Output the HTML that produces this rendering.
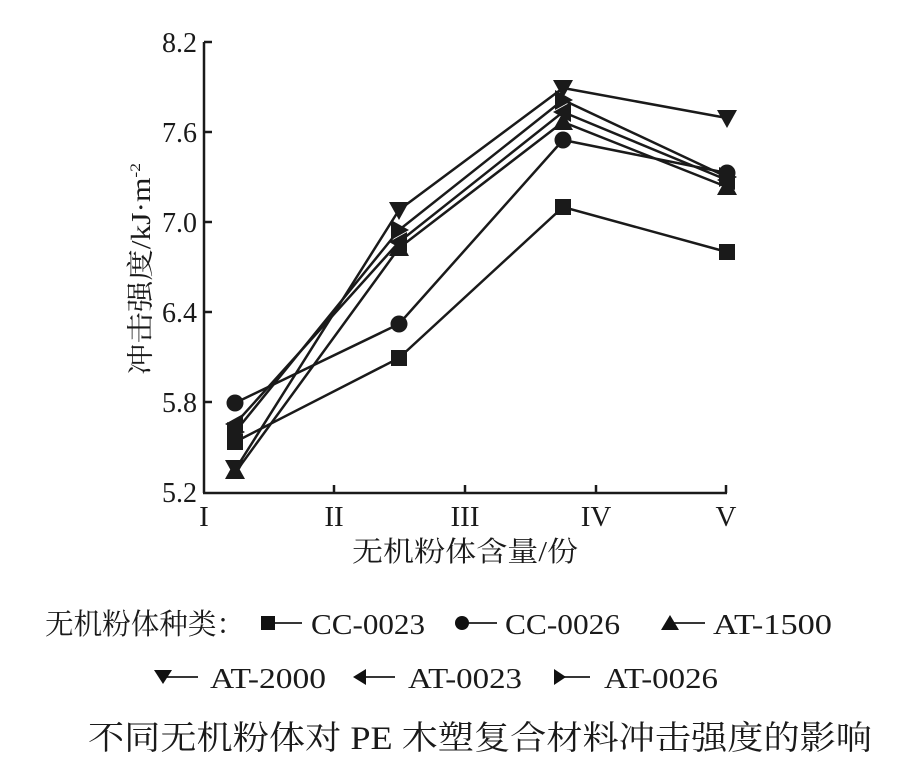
<!DOCTYPE html>
<html><head><meta charset="utf-8"><style>
html,body{margin:0;padding:0;background:#fff;}
svg{display:block;}
text{font-family:"Liberation Serif","Noto Serif CJK SC",serif;fill:#1a1a1a;}
</style></head><body>
<svg width="914" height="763" viewBox="0 0 914 763" xmlns="http://www.w3.org/2000/svg">
<defs>
<rect id="sq" x="-8" y="-8" width="16" height="16" fill="#1a1a1a"/>
<circle id="ci" r="8.5" fill="#1a1a1a"/>
<polygon id="tu" points="0,-10 10,8 -10,8" fill="#1a1a1a"/>
<polygon id="td" points="0,10 10,-8 -10,-8" fill="#1a1a1a"/>
<polygon id="tl" points="-10,0 8,-10 8,10" fill="#1a1a1a"/>
<polygon id="tr" points="10,0 -8,-10 -8,10" fill="#1a1a1a"/>
</defs>
<g stroke="#1a1a1a" stroke-width="2.5" fill="none">
<line x1="204" y1="42" x2="204" y2="493"/>
<line x1="203" y1="493" x2="727" y2="493"/>
<line x1="204" y1="42" x2="212" y2="42"/>
<line x1="204" y1="132" x2="212" y2="132"/>
<line x1="204" y1="222" x2="212" y2="222"/>
<line x1="204" y1="312" x2="212" y2="312"/>
<line x1="204" y1="402" x2="212" y2="402"/>
<line x1="334" y1="493" x2="334" y2="485"/>
<line x1="465" y1="493" x2="465" y2="485"/>
<line x1="596" y1="493" x2="596" y2="485"/>
<line x1="726" y1="493" x2="726" y2="485"/>
</g>
<g font-size="28" text-anchor="end">
<text x="197" y="52">8.2</text><text x="197" y="142">7.6</text><text x="197" y="232">7.0</text>
<text x="197" y="322">6.4</text><text x="197" y="412">5.8</text><text x="197" y="502">5.2</text>
</g>
<g font-size="29" text-anchor="middle">
<text x="204" y="526">I</text><text x="334" y="526">II</text><text x="465" y="526">III</text>
<text x="596" y="526">IV</text><text x="726" y="526">V</text>
</g>
<text x="352" y="561" font-size="28" textLength="226" lengthAdjust="spacingAndGlyphs">无机粉体含量/份</text>
<text transform="translate(150,375) rotate(-90)" font-size="27" textLength="212" lengthAdjust="spacingAndGlyphs">冲击强度/kJ·m<tspan font-size="15" dy="-10">-2</tspan></text>
<g stroke="#1a1a1a" stroke-width="2.5" fill="none">
<polyline points="235,442 399,358 563,207 727,252"/>
<polyline points="235,403 399,324 563,140 727,173"/>
<polyline points="235,473 399,248 563,122 727,187"/>
<polyline points="235,470 399,210 563,88 727,118"/>
<polyline points="235,424 399,242 563,112 727,180"/>
<polyline points="235,432 399,230 563,100 727,177"/>
</g>
<use href="#sq" x="235" y="442"/><use href="#sq" x="399" y="358"/><use href="#sq" x="563" y="207"/><use href="#sq" x="727" y="252"/>
<use href="#ci" x="235" y="403"/><use href="#ci" x="399" y="324"/><use href="#ci" x="563" y="140"/><use href="#ci" x="727" y="173"/>
<use href="#tu" x="235" y="471"/><use href="#tu" x="399" y="248"/><use href="#tu" x="563" y="122"/><use href="#tu" x="727" y="187"/>
<use href="#td" x="235" y="468"/><use href="#td" x="399" y="210"/><use href="#td" x="563" y="88"/><use href="#td" x="727" y="118"/>
<use href="#tl" x="235" y="424"/><use href="#tl" x="399" y="242"/><use href="#tl" x="563" y="112"/><use href="#tl" x="727" y="180"/>
<use href="#tr" x="235" y="432"/><use href="#tr" x="399" y="230"/><use href="#tr" x="563" y="100"/><use href="#tr" x="727" y="177"/>
<g font-size="29" lengthAdjust="spacingAndGlyphs">
<text x="45" y="634" textLength="200" lengthAdjust="spacingAndGlyphs">无机粉体种类：</text>
<text x="311" y="634" textLength="114" lengthAdjust="spacingAndGlyphs">CC-0023</text>
<text x="505" y="634" textLength="115" lengthAdjust="spacingAndGlyphs">CC-0026</text>
<text x="713" y="634" textLength="119" lengthAdjust="spacingAndGlyphs">AT-1500</text>
<text x="210" y="688" textLength="116" lengthAdjust="spacingAndGlyphs">AT-2000</text>
<text x="408" y="688" textLength="114" lengthAdjust="spacingAndGlyphs">AT-0023</text>
<text x="604" y="688" textLength="114" lengthAdjust="spacingAndGlyphs">AT-0026</text>
</g>
<g stroke="#1a1a1a" stroke-width="1.8">
<line x1="268" y1="623" x2="302" y2="623"/>
<line x1="462" y1="623" x2="497" y2="623"/>
<line x1="670" y1="623" x2="705" y2="623"/>
<line x1="163" y1="677" x2="198" y2="677"/>
<line x1="360" y1="677" x2="395" y2="677"/>
<line x1="560" y1="677" x2="590" y2="677"/>
</g>
<rect x="261" y="616" width="14" height="14" fill="#111"/>
<circle cx="462" cy="623" r="7" fill="#111"/>
<polygon points="670,615 679,630 661,630" fill="#111"/>
<polygon points="163,684 172,670 154,670" fill="#111"/>
<polygon points="353,677 366,669 366,685" fill="#111"/>
<polygon points="566,677 554,669 554,685" fill="#111"/>
<text x="88" y="749" font-size="33" textLength="784" lengthAdjust="spacingAndGlyphs">不同无机粉体对 PE 木塑复合材料冲击强度的影响</text>
</svg>
</body></html>
